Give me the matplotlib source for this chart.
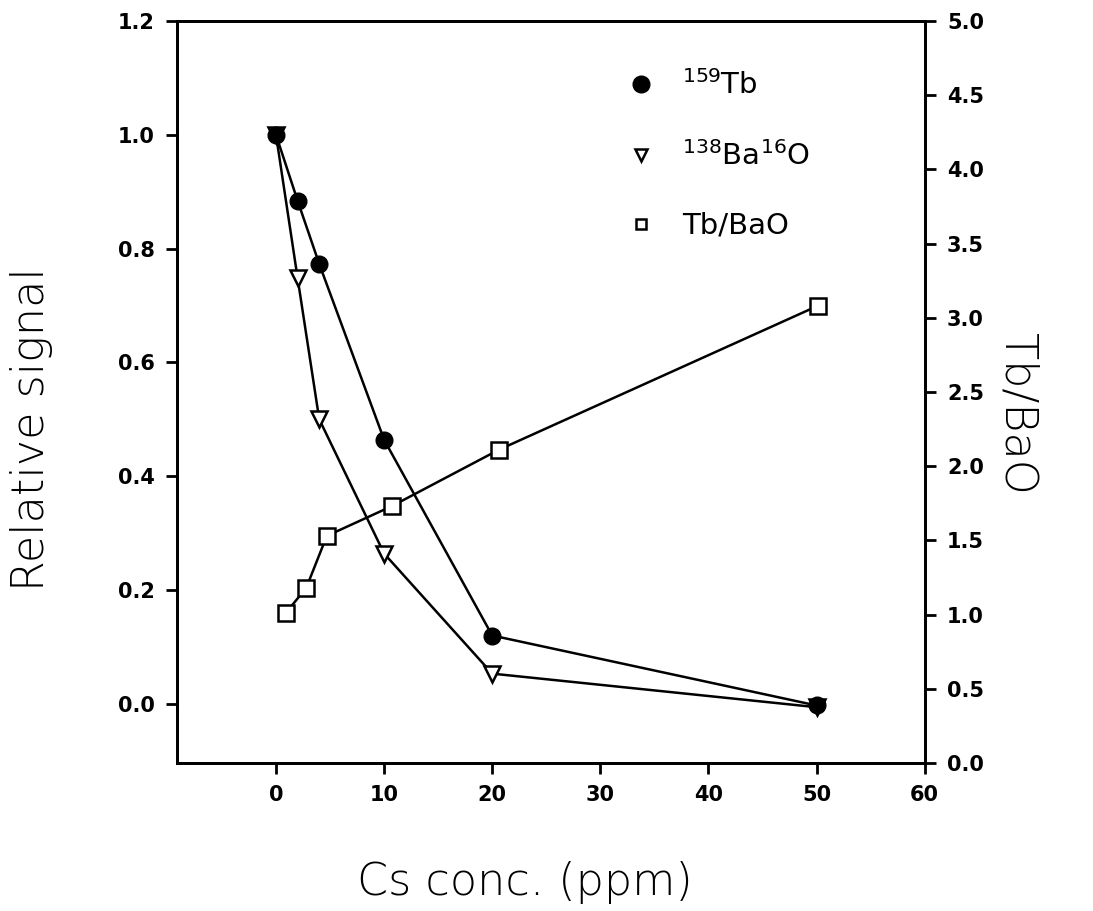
import matplotlib
matplotlib.use('Agg')
import matplotlib.pyplot as plt
from matplotlib.lines import Line2D

plt.rcParams['mathtext.default'] = 'regular'

# data
cs_tb = [0, 2, 4, 10, 20, 50]
tb_signal = [1.0, 0.884, 0.773, 0.464, 0.12, -0.003]

cs_bao = [0, 2, 4, 10, 20, 50]
bao_signal = [1.0, 0.748, 0.50, 0.264, 0.053, -0.006]

cs_ratio = [0.9, 2.8, 4.7, 10.7, 20.6, 50.1]
ratio = [1.01, 1.18, 1.53, 1.73, 2.11, 3.08]

x_ticks = [0, 10, 20, 30, 40, 50, 60]
left_ticks = [0.0, 0.2, 0.4, 0.6, 0.8, 1.0, 1.2]
right_ticks = [0.0, 0.5, 1.0, 1.5, 2.0, 2.5, 3.0, 3.5, 4.0, 4.5, 5.0]

fig = plt.figure(figsize=(10.93, 9.11), dpi=100)
ax = fig.add_axes([0.162, 0.1625, 0.684, 0.8145])
ax2 = ax.twinx()

lw = 1.8
ax.plot(cs_bao, bao_signal, color='black', lw=lw, marker='v', ms=11,
        mfc='white', mec='black', mew=1.8, zorder=3)
ax.plot(cs_tb, tb_signal, color='black', lw=lw, marker='o', ms=12,
        mfc='black', mec='black', zorder=4)
ax2.plot(cs_ratio, ratio, color='black', lw=lw, marker='s', ms=11,
         mfc='white', mec='black', mew=1.8, zorder=3)

ax.set_xlim(-9.15, 60)
ax.set_ylim(-0.104, 1.2)
ax2.set_ylim(0, 5.0)

ax.set_xticks(x_ticks)
ax.set_yticks(left_ticks)
ax2.set_yticks(right_ticks)
ax.set_xticklabels([str(t) for t in x_ticks])
ax.set_yticklabels(['%.1f' % t for t in left_ticks])
ax2.set_yticklabels(['%.1f' % t for t in right_ticks])

for a in (ax, ax2):
    for s in a.spines.values():
        s.set_linewidth(2.0)
    a.tick_params(direction='out', length=8, width=2, labelsize=15, pad=8)
for lab in ax.get_xticklabels() + ax.get_yticklabels() + ax2.get_yticklabels():
    lab.set_fontweight('bold')

ax.set_ylabel('Relative signal', fontsize=32, fontweight='light')
ax.yaxis.set_label_coords(-0.166, 0.45)
ax.set_xlabel('Cs conc. (ppm)', fontsize=32, fontweight='light')
ax.xaxis.set_label_coords(0.465, -0.132)
ax2.set_ylabel('Tb/BaO', fontsize=32, fontweight='light', rotation=270)
ax2.yaxis.set_label_coords(1.152, 0.47)

# legend
handles = [
    Line2D([], [], ls='none', marker='o', ms=12, mfc='black', mec='black'),
    Line2D([], [], ls='none', marker='v', ms=8, mfc='white', mec='black', mew=1.8),
    Line2D([], [], ls='none', marker='s', ms=7, mfc='white', mec='black', mew=1.8),
]
labels = ['$^{159}$Tb', '$^{138}$Ba$^{16}$O', 'Tb/BaO']
ax.legend(handles, labels, loc='upper left', bbox_to_anchor=(0.582, 0.953),
          frameon=False, fontsize=21, handlelength=1.0, handletextpad=0.9,
          labelspacing=1.4, borderpad=0)

fig.savefig('out.png', dpi=100)
